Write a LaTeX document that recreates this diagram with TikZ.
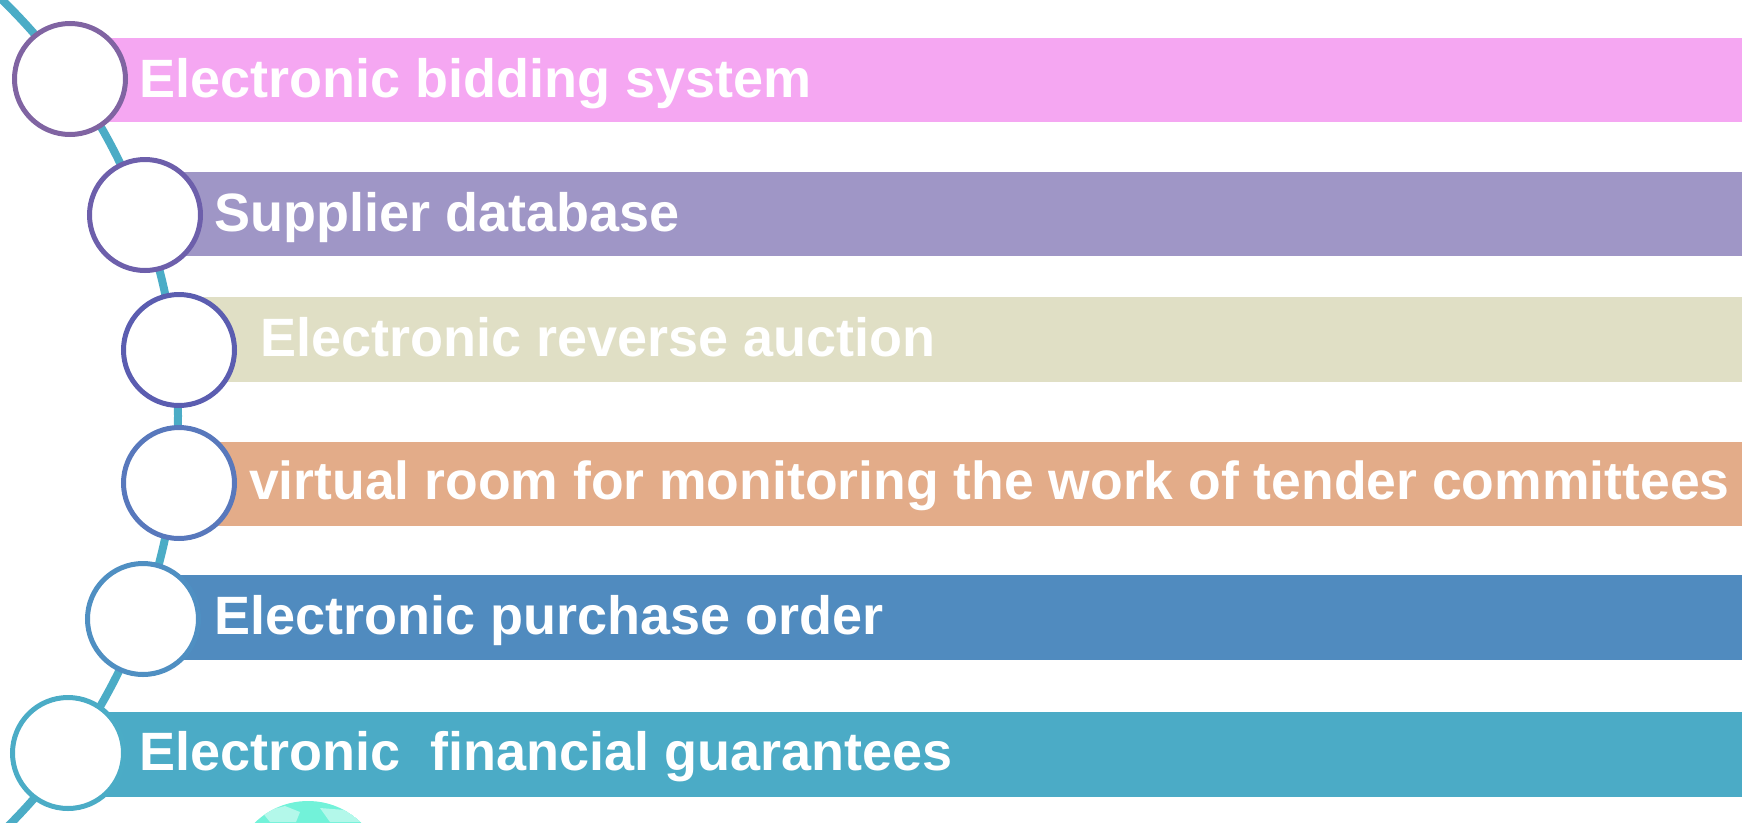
\documentclass[tikz,border=0pt]{standalone}
\usepackage{fontspec}
\setmainfont{Liberation Sans}
\definecolor{arcc}{HTML}{4BACC6}
\definecolor{barA}{HTML}{F5A7F2}
\definecolor{barB}{HTML}{9F96C6}
\definecolor{barC}{HTML}{E0DFC5}
\definecolor{barD}{HTML}{E3AC89}
\definecolor{barE}{HTML}{508BBF}
\definecolor{barF}{HTML}{4BABC6}
\definecolor{cirA}{HTML}{8064A2}
\definecolor{cirB}{HTML}{6D5FAB}
\definecolor{cirC}{HTML}{5B5DB0}
\definecolor{cirD}{HTML}{5878BC}
\definecolor{cirE}{HTML}{4F8FC2}
\definecolor{cirF}{HTML}{4BACC6}
\definecolor{globeA}{HTML}{72F2D9}
\definecolor{globeB}{HTML}{B3F8EA}
\begin{document}
\begin{tikzpicture}[x=1pt,y=-1pt,
  ring/.style={circle,draw=#1,line width=5pt,fill=white,minimum size=111pt,inner sep=0pt},
  lbl/.style={anchor=base west,inner sep=0pt,text=white,font=\fontsize{54}{60}\selectfont\bfseries}]
\useasboundingbox (0,0) rectangle (1742,822);
\clip (0,0) rectangle (1742,822);
% connecting arc
\draw[arcc,line width=8pt] (-402,416) circle[radius=580pt];
% bars
\fill[barA] (70,38) rectangle (1742,122);
\fill[barB] (145,172) rectangle (1742,256);
\fill[barC] (179,297) rectangle (1742,382);
\fill[barD] (179,442) rectangle (1742,526);
\fill[barE] (143,575) rectangle (1742,660);
\fill[barF] (68,712) rectangle (1742,797);
% circles
\node[ring=cirA] (c1) at (70,79) {};
\node[ring=cirB] (c2) at (145,215) {};
\node[ring=cirC] (c3) at (179,350) {};
\node[ring=cirD] (c4) at (179,483) {};
\node[ring=cirE] (c5) at (143,619) {};
\node[ring=cirF] (c6) at (68,753) {};
% labels
\node[lbl] (t1) at (139,97) {Electronic bidding system};
\node[lbl] (t2) at (214,231) {Supplier database};
\node[lbl] (t3) at (260,356) {Electronic reverse auction};
\node[lbl,font=\fontsize{53.5}{60}\selectfont\bfseries] (t4) at (249,499) {virtual room for monitoring the work of tender committees};
\node[lbl] (t5) at (214,634) {Electronic purchase order};
\node[lbl] (t6) at (139,770) {Electronic\ \ financial guarantees};
% globe
\begin{scope}
\clip (308,877) circle[radius=76pt];
\fill[globeA] (308,877) circle[radius=76pt];
\fill[globeB] (262,812) -- (285,806) -- (300,812) -- (296,822) -- (270,822) -- cycle;
\fill[globeB] (320,808) -- (345,810) -- (362,822) -- (330,822) -- cycle;
\end{scope}
\end{tikzpicture}
\end{document}
